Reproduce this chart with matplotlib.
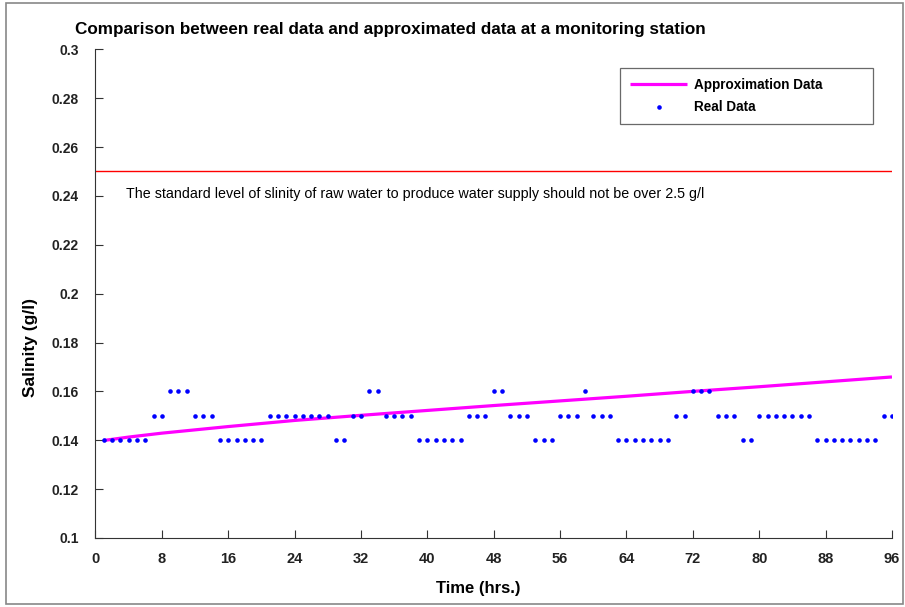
import matplotlib.pyplot as plt
from matplotlib.patches import Rectangle

plt.rcParams['font.family'] = ['Liberation Sans', 'DejaVu Sans']

# real measurements, one per hour (1..96)
hours = list(range(1, 97))
real_salinity = [
    0.14, 0.14, 0.14, 0.14, 0.14, 0.14, 0.15, 0.15, 0.16, 0.16, 0.16, 0.15,
    0.15, 0.15, 0.14, 0.14, 0.14, 0.14, 0.14, 0.14, 0.15, 0.15, 0.15, 0.15,
    0.15, 0.15, 0.15, 0.15, 0.14, 0.14, 0.15, 0.15, 0.16, 0.16, 0.15, 0.15,
    0.15, 0.15, 0.14, 0.14, 0.14, 0.14, 0.14, 0.14, 0.15, 0.15, 0.15, 0.16,
    0.16, 0.15, 0.15, 0.15, 0.14, 0.14, 0.14, 0.15, 0.15, 0.15, 0.16, 0.15,
    0.15, 0.15, 0.14, 0.14, 0.14, 0.14, 0.14, 0.14, 0.14, 0.15, 0.15, 0.16,
    0.16, 0.16, 0.15, 0.15, 0.15, 0.14, 0.14, 0.15, 0.15, 0.15, 0.15, 0.15,
    0.15, 0.15, 0.14, 0.14, 0.14, 0.14, 0.14, 0.14, 0.14, 0.14, 0.15, 0.15,
]

# approximation curve
approx_hours = [1, 4, 8, 16, 24, 32, 40, 48, 56, 64, 72, 80, 88, 96]
approx_salinity = [0.1399, 0.1413, 0.1429, 0.1456, 0.1481, 0.1502, 0.1522,
                   0.1542, 0.1561, 0.1580, 0.1600, 0.1619, 0.1639, 0.1659]

standard_level = 0.25
note = ('The standard level of slinity of raw water to produce water supply '
        'should not be over 2.5 g/l')

fig = plt.figure(figsize=(9.05, 6.07), dpi=100)
ax = fig.add_axes([0.1055, 0.1137, 0.8801, 0.8051])

ax.axhline(standard_level, color='red', lw=1.0)
ax.plot(approx_hours, approx_salinity, color='#ff00ff', lw=2.3,
        label='Approximation Data', solid_capstyle='butt')
ax.plot(hours, real_salinity, 'o', color='#0000ff', ms=3.3, mec='none',
        label='Real Data')

ax.text(3.7, 0.2408, note, fontsize=10.25, va='center', ha='left')

ax.set_xlim(0, 96)
ax.set_ylim(0.1, 0.3)
ax.set_xticks(range(0, 97, 8))
ax.set_yticks([0.1, 0.12, 0.14, 0.16, 0.18, 0.2, 0.22, 0.24, 0.26, 0.28, 0.3])
ax.set_yticklabels(['0.1', '0.12', '0.14', '0.16', '0.18', '0.2', '0.22',
                    '0.24', '0.26', '0.28', '0.3'])
for s in ['top', 'right']:
    ax.spines[s].set_visible(False)
for s in ['left', 'bottom']:
    ax.spines[s].set_color('#333333')
ax.tick_params(axis='x', direction='in', length=6, pad=10, labelsize=10.5,
               colors='#333333', labelcolor='#222222')
ax.tick_params(axis='y', direction='in', length=6, pad=12, labelsize=10,
               colors='#333333', labelcolor='#222222')
for lab in ax.get_xticklabels() + ax.get_yticklabels():
    lab.set_fontweight('bold')

ax.set_xlabel('Time (hrs.)', fontsize=12, fontweight='bold')
ax.xaxis.set_label_coords(0.480, -0.088)
ax.set_ylabel('Salinity (g/l)', fontsize=12.5, fontweight='bold')
ax.yaxis.set_label_coords(-0.0722, 0.389)
fig.text(0.083, 0.951, 'Comparison between real data and approximated data at a monitoring station',
         fontsize=12.3, fontweight='bold', va='center', ha='left')

leg = ax.legend(loc='upper left', bbox_to_anchor=(0.6585, 0.843, 0.3176, 0.1187),
                mode='expand', borderaxespad=0, fancybox=False, numpoints=1,
                handlelength=4.2, handletextpad=0.5, labelspacing=0.6,
                borderpad=0.75, prop={'weight': 'bold', 'size': 9.75})
leg.get_frame().set_edgecolor('#444444')
leg.get_frame().set_linewidth(0.9)

fig.patches.append(Rectangle((6 / 905, 3 / 607), 897 / 905, 601 / 607,
                             transform=fig.transFigure, fill=False,
                             edgecolor='#888888', lw=1.2))

fig.savefig('out.png', dpi=100)
